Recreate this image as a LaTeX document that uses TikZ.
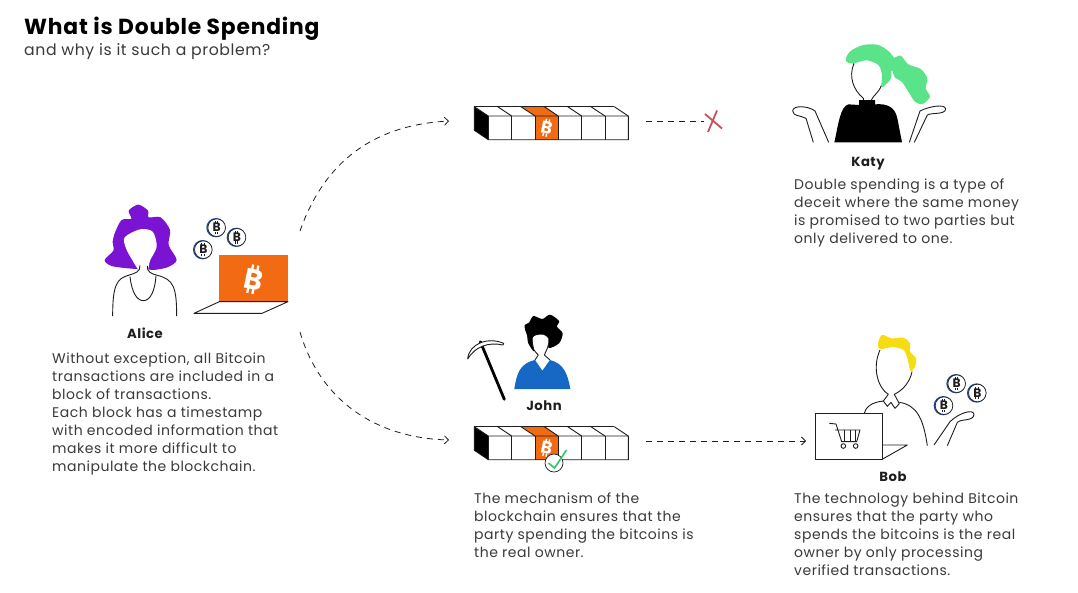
\documentclass[tikz,border=0pt]{standalone}
\usepackage{fontspec}
\setmainfont{Poppins}[LetterSpace=3.7]
\usetikzlibrary{arrows.meta}
\definecolor{orangebtc}{HTML}{F26A12}
\definecolor{purplehair}{HTML}{7A14D2}
\definecolor{greenhair}{HTML}{5BE38A}
\definecolor{yellowhair}{HTML}{F6DC12}
\definecolor{bluejohn}{HTML}{1668C4}
\definecolor{navycoin}{HTML}{1F4A9C}
\definecolor{inkline}{HTML}{1E1E1E}
\definecolor{inktext}{HTML}{3A3A3A}
\definecolor{crossred}{HTML}{C9505A}
\definecolor{tickgreen}{HTML}{35C56E}
\tikzset{
  >={Straight Barb[length=4pt,width=8pt]},
  body/.style={anchor=north west, align=left, inner sep=0pt, text=inktext, font=\fontsize{14}{18}\selectfont},
  who/.style={inner sep=0pt, text=inkline, font=\bfseries\fontsize{13.2}{16}\selectfont},
  outline/.style={draw=inkline, line width=0.9pt, line join=round},
  link/.style={draw=inkline, line width=0.8pt, dash pattern=on 6pt off 5pt},
  btc/.pic={
    \node[transform shape, inner sep=0pt, font=\bfseries\fontsize{15}{15}\selectfont] (-mark) {B};
    \foreach \i in {-1.7,1.1} {
      \fill (\i-0.6,-7.6) rectangle (\i+0.6,-5);
      \fill (\i-0.6,5) rectangle (\i+0.6,7.6);
    }
  },
  coin/.pic={
    \draw[navycoin, line width=1.3pt] (-0.7,0) circle (9);
    \draw[fill=white, draw=inkline, line width=0.7pt] (0,0) circle (8.8);
    \pic[inkline, scale=0.82] (-sign) at (0,0) {btc};
  },
  chain/.pic={
    \fill[black] (-14,-9.3) -- (0,0) -- (0,23.7) -- (-14,14.3) -- cycle;
    \fill[orangebtc] (33.3,-9.3) -- (56.6,-9.3) -- (70,0) -- (46.6,0) -- cycle;
    \fill[orangebtc] (46.6,0) rectangle (70,23.7);
    \foreach \i in {0,1,2,3,4,5,6}
      \draw[outline] (\i*23.33,0) -- (\i*23.33,23.7);
    \foreach \i in {0,1,2,3,4,5,6}
      \draw[outline] (\i*23.33,0) -- (\i*23.33-14,-9.3);
    \draw[outline] (-14,-9.3) -- (126,-9.3);
    \draw[outline] (-14,-9.3) -- (-14,14.3) -- (0,23.7) -- (140,23.7) -- (140,0) -- (0,0);
    \pic[white, scale=1.15, rotate=-12] (-sign) at (58.3,11.8) {btc};
  }
}

\begin{document}
\begin{tikzpicture}[x=1pt,y=-1pt]
  \useasboundingbox (0,0) rectangle (1078,592);
  \fill[white] (0,0) rectangle (1078,592);

  \node[anchor=west, inner sep=0pt, text=black, font=\bfseries\fontsize{21.8}{24}\selectfont] (title) at (24,28.5) {What is Double Spending};
  \node[anchor=west, inner sep=0pt, text=inktext, font=\fontsize{15.7}{18}\selectfont] (subtitle) at (24,52) {and why is it such a problem?};

  % Alice
  \begin{scope}[shift={(90,190)},scale=1/3]
    \fill[purplehair] plot[smooth cycle] coordinates {(145,44) (116,62) (124,86) (95,90) (76,125) (68,155) (70,182) (44,210) (65,228) (125,236) (170,238) (190,240) (232,232) (260,210) (236,165) (240,120) (212,82) (176,82) (174,62)};
    \fill[white] plot[smooth cycle] coordinates {(150,118) (188,125) (200,170) (180,212) (172,245) (150,245) (128,212) (108,175) (104,142)};
    \draw[outline] (150,226) .. controls (152,245) and (135,250) .. (118,255) .. controls (80,265) and (68,285) .. (68,378);
    \draw[outline] (172,228) .. controls (170,245) and (185,252) .. (202,256) .. controls (250,268) and (260,290) .. (260,378);
    \draw[outline] (120,260) .. controls (125,305) and (140,332) .. (160,332) .. controls (182,332) and (195,300) .. (198,258);
    \fill[orangebtc] (388,196) rectangle (594,335);
    \draw[outline] (388,335) -- (312,370) -- (516,370) -- (594,335) -- cycle;
    \pic[white, scale=1.9, rotate=-12] (aliceSign) at (490,268) {btc};
    \pic (aliceCoinA) at (380,113) {coin};
    \pic (aliceCoinB) at (441,142) {coin};
    \pic (aliceCoinC) at (340,179) {coin};
  \end{scope}
  \node[who] (alice) at (145,333.5) {Alice};
  \node[body] (aliceText) at (52,353) {Without exception, all Bitcoin\\transactions are included in a\\block of transactions.\\Each block has a timestamp\\with encoded information that\\makes it more difficult to\\manipulate the blockchain.};

  % Katy
  \begin{scope}[shift={(780,35)},scale=1/3]
    \fill[greenhair] plot[smooth cycle] coordinates {(197,72) (212,48) (250,30) (295,30) (330,52) (342,68) (362,62) (385,88) (422,102) (442,130) (437,160) (450,185) (428,207) (405,200) (385,170) (365,140) (345,128) (335,105) (332,132) (305,157) (306,120) (295,90) (260,76) (225,84) (205,84)};
    \draw[outline] (222,85) .. controls (205,125) and (220,165) .. (250,190) -- (250,197);
    \draw[outline] (304,152) .. controls (295,175) and (280,180) .. (273,197);
    \fill[black] (237,195) -- (285,195) -- (285,208) .. controls (320,205) and (345,215) .. (352,250) -- (366,322) -- (163,322) .. controls (175,270) and (180,215) .. (205,208) -- (237,210) -- cycle;
    \draw[outline] (100,322) -- (78,250) .. controls (60,240) and (40,245) .. (38,228) .. controls (38,210) and (85,212) .. (105,228) -- (146,322);
    \draw[outline] (388,322) -- (420,228) .. controls (445,215) and (495,205) .. (497,222) .. controls (495,240) and (455,232) .. (442,240) -- (403,322);
  \end{scope}
  \node[who] (katy) at (868,164) {Katy};
  \node[body] (katyText) at (794,179) {Double spending is a type of\\deceit where the same money\\is promised to two parties but\\only delivered to one.};

  % blocks
  \pic (chainTop) at (488.3,116) {chain};
  \pic (chainLow) at (488.3,436) {chain};

  % John
  \begin{scope}[shift={(455,310)},scale=1/3]
    \fill[bluejohn] (178,237) .. controls (185,190) and (195,160) .. (240,150) -- (262,182) -- (285,150) .. controls (325,160) and (338,190) .. (346,237) -- cycle;
    \fill[black] plot[smooth cycle] coordinates {(209,45) (222,38) (235,18) (262,27) (285,14) (312,33) (306,50) (323,70) (312,100) (281,114) (280,85) (265,74) (245,75) (232,85) (237,124) (220,100) (216,75) (211,62)};
    \draw[outline] (232,85) .. controls (228,115) and (240,125) .. (250,135) -- (240,150);
    \draw[outline] (281,100) .. controls (278,120) and (270,125) .. (268,135) -- (285,150);
    \draw[black, line width=2.8pt, line cap=round] (76,95) -- (148,268);
    \draw[outline, fill=white] (38,147) .. controls (42,100) and (100,80) .. (146,100) -- (144,105) .. controls (100,95) and (60,110) .. (38,147) -- cycle;
  \end{scope}
  \node[who] (john) at (544,405.5) {John};
  \node[draw=inkline, fill=white, circle, line width=0.7pt, minimum size=18pt, inner sep=0pt] (tick) at (554,463) {};
  \draw[tickgreen, line width=1.6pt] (548.5,463) -- (554.5,468) -- (566.5,450);
  \node[body] (johnText) at (474,493) {The mechanism of the\\blockchain ensures that the\\party spending the bitcoins is\\the real owner.};

  % Bob
  \begin{scope}[shift={(800,325)},scale=1/3]
    \fill[yellowhair] plot[smooth cycle] coordinates {(234,55) (246,30) (275,40) (310,38) (330,55) (330,80) (348,100) (345,125) (332,138) (322,100) (312,76) (280,66) (240,72)};
    \draw[outline] (240,75) .. controls (215,130) and (235,190) .. (265,208) -- (250,228) -- (262,244) -- (273,232) -- (285,250) -- (298,236) -- (283,208) .. controls (310,195) and (330,170) .. (336,140);
    \draw[outline] (250,228) .. controls (215,232) and (198,245) .. (192,266);
    \draw[outline] (298,232) .. controls (350,240) and (370,280) .. (382,362);
    \draw[outline, fill=white] (47,266) rectangle (246,402);
    \draw[outline] (246,360) -- (322,360) -- (248,402);
    \draw[outline] (88,295) -- (108,297) -- (125,350) -- (170,350) -- (180,315) -- (105,315);
    \foreach \i in {133,150,166} \draw[outline] (\i,315) -- (\i,350);
    \draw[outline] (130,363) circle (7);
    \draw[outline] (167,363) circle (7);
    \draw[outline] (402,360) -- (450,290) .. controls (475,265) and (520,250) .. (522,268) .. controls (520,290) and (485,280) .. (472,292) -- (442,362);
    \pic (bobCoinA) at (470,176) {coin};
    \pic (bobCoinB) at (532,204) {coin};
    \pic (bobCoinC) at (432,242) {coin};
  \end{scope}
  \node[who] (bob) at (893,477) {Bob};
  \node[body] (bobText) at (794,493) {The technology behind Bitcoin\\ensures that the party who\\spends the bitcoins is the real\\owner by only processing\\verified transactions.};

  % connectors
  \coordinate (aliceUp) at (300,231);
  \coordinate (aliceDown) at (300,332);
  \coordinate (chainTopIn) at (449,121);
  \coordinate (chainLowIn) at (449,440);
  \coordinate (chainTopOut) at (646,121);
  \coordinate (chainLowOut) at (646,441);
  \coordinate (bobIn) at (806,441);
  \node[inner sep=0pt, minimum size=18pt] (cross) at (713,121) {};
  \draw[link,->] (aliceUp) .. controls (325,160) and (375,125) .. (chainTopIn);
  \draw[link,->] (aliceDown) .. controls (320,400) and (375,438) .. (chainLowIn);
  \draw[link] (chainTopOut) -- (cross.west);
  \draw[link,->] (chainLowOut) -- (bobIn);
  \draw[crossred, line width=1.8pt] (705,114) -- (722,128.5);
  \draw[crossred, line width=1.8pt] (717,110.5) -- (708,132);
\end{tikzpicture}
\end{document}
